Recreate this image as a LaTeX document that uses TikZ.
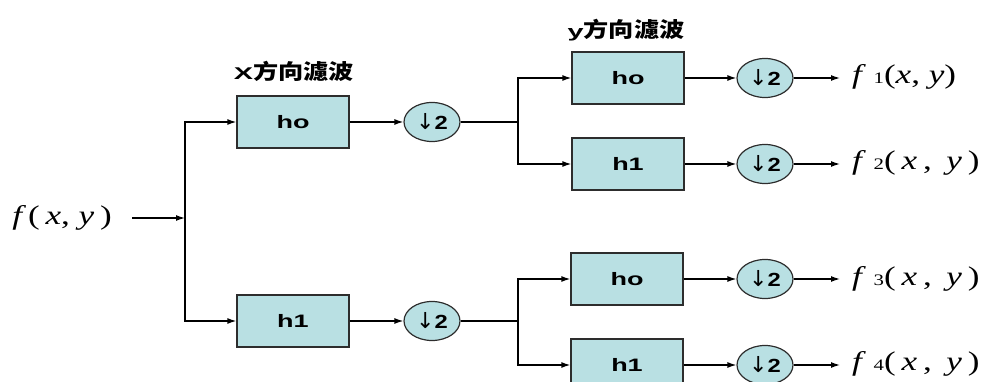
\documentclass[tikz,border=0pt]{standalone}
\usepackage{graphicx}
\usepackage{fontspec}
\setmainfont{Liberation Serif}
\newfontfamily\arialf{Liberation Sans}
\newfontfamily\cjkf{Noto Sans CJK SC}
\newfontfamily\dejavuf{DejaVu Sans}
\usetikzlibrary{arrows.meta,shapes.geometric}
\definecolor{boxblue}{RGB}{185,224,227}
\definecolor{edge}{RGB}{45,45,45}
\newcommand{\hs}[2]{\scalebox{#1}[1]{#2}}
\newcommand{\dtwo}{{\dejavuf\fontsize{22}{22}\selectfont ↓}{\arialf\bfseries\fontsize{19}{19}\selectfont\hs{1.25}{2}}}
\newcommand{\flab}[1]{\hs{1.3}{{\fontsize{27}{27}\selectfont #1}}}
\newcommand{\fo}[1]{\flab{{\itshape f}\,\,{\fontsize{16}{16}\selectfont #1}(\,{\itshape x}\,,\, {\itshape y}\,)}}
\newcommand{\ttlx}[1]{\hs{1.7}{\arialf\bfseries\fontsize{17}{17}\selectfont #1}\hs{1.2}{\cjkf\bfseries\fontsize{21}{21}\selectfont 方向濾波}}
\begin{document}
\begin{tikzpicture}[x=1pt,y=-1pt,
  filt/.style={draw=edge, fill=boxblue, line width=1.3pt, minimum width=112pt, minimum height=52pt, inner sep=0pt, font=\arialf\bfseries\fontsize{18}{18}\selectfont},
  dn/.style={ellipse, draw=edge, fill=boxblue, line width=1.2pt, minimum width=56pt, minimum height=39pt, inner sep=0pt},
  conn/.style={line width=1.3pt},
  arr/.style={conn, -{Latex[length=9pt,width=6pt]}},
  outtxt/.style={anchor=west, inner sep=0pt},
  ttl/.style={inner sep=0pt}]
\useasboundingbox (0,0) rectangle (989,382);
\clip (0,0) rectangle (989,382);
% input
\node[anchor=east, inner sep=0pt] (in) at (112,218) {\flab{{\itshape f}\,(\,{\itshape x}, {\itshape y}\,)}};
\coordinate (s0) at (185,218);
% x stage
\node[filt] (xh0) at (293,122) {\hs{1.5}{ho}};
\node[filt] (xh1) at (293,321) {\hs{1.5}{h1}};
\node[ttl] (tx) at (294,71) {\ttlx{X}};
\node[dn] (d1) at (432,122) {\dtwo};
\node[dn] (d2) at (432,321) {\dtwo};
\coordinate (s1) at (518,122);
\coordinate (s2) at (518,321);
% y stage
\node[filt] (yh0) at (628,78) {\hs{1.5}{ho}};
\node[filt] (yh1) at (628,164) {\hs{1.5}{h1}};
\node[filt] (yh2) at (627,279) {\hs{1.5}{ho}};
\node[filt] (yh3) at (627,365) {\hs{1.5}{h1}};
\node[ttl] (ty) at (626,30) {\ttlx{y}};
\node[dn] (e1) at (765,78) {\dtwo};
\node[dn] (e2) at (765,164) {\dtwo};
\node[dn] (e3) at (765,279) {\dtwo};
\node[dn] (e4) at (765,365) {\dtwo};
\node[outtxt] (o1) at (852,77) {\flab{{\itshape f}\,\,{\fontsize{16}{16}\selectfont 1}({\itshape x}, {\itshape y})}};
\node[outtxt] (o2) at (852,163) {\fo{2}};
\node[outtxt] (o3) at (852,279) {\fo{3}};
\node[outtxt] (o4) at (852,364) {\fo{4}};
% connectors
\draw[arr, shorten <=20pt] (in.east) -- (s0);
\draw[arr] (s0) |- (xh0.west);
\draw[arr] (s0) |- (xh1.west);
\draw[arr] (xh0.east) -- (d1.west);
\draw[arr] (xh1.east) -- (d2.west);
\draw[conn] (d1.east) -- (s1);
\draw[conn] (d2.east) -- (s2);
\draw[arr] (s1) |- (yh0.west);
\draw[arr] (s1) |- (yh1.west);
\draw[arr] (s2) |- (yh2.west);
\draw[arr] (s2) |- (yh3.west);
\draw[arr] (yh0.east) -- (e1.west);
\draw[arr] (yh1.east) -- (e2.west);
\draw[arr] (yh2.east) -- (e3.west);
\draw[arr] (yh3.east) -- (e4.west);
\draw[arr, shorten >=12pt] (e1.east) -- (o1.west |- e1.east);
\draw[arr, shorten >=12pt] (e2.east) -- (o2.west |- e2.east);
\draw[arr, shorten >=12pt] (e3.east) -- (o3.west |- e3.east);
\draw[arr, shorten >=12pt] (e4.east) -- (o4.west |- e4.east);
\end{tikzpicture}
\end{document}
